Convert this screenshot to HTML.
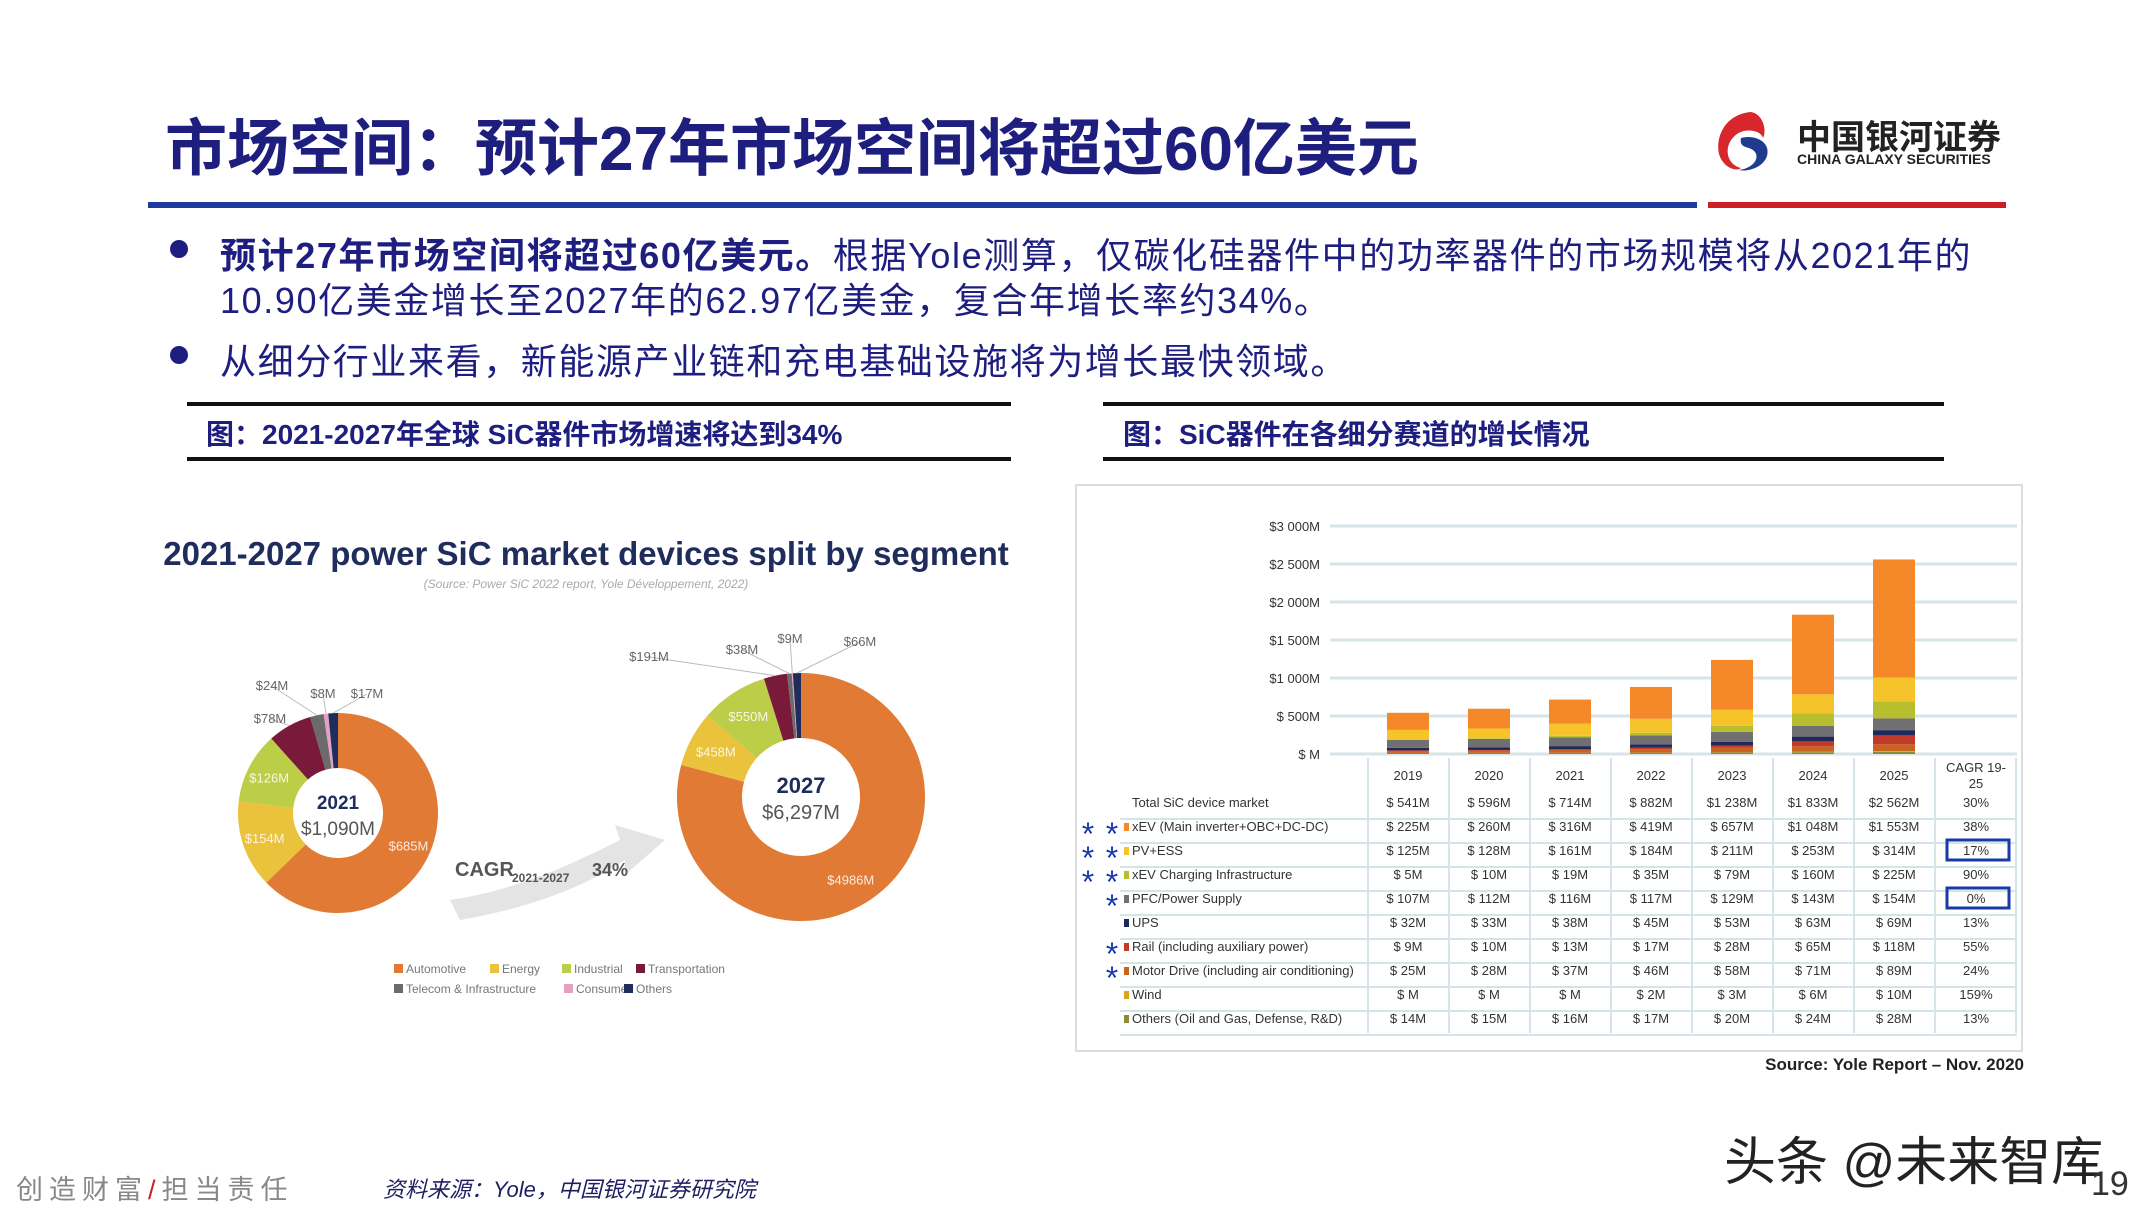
<!DOCTYPE html>
<html><head><meta charset="utf-8">
<style>
html,body{margin:0;padding:0;background:#fff;}
#page{position:relative;width:2155px;height:1212px;overflow:hidden;background:#fff;font-family:"Liberation Sans","Noto Sans CJK SC",sans-serif;}
.abs{position:absolute;white-space:nowrap;}
.title{left:165px;top:98px;font-size:62px;font-weight:bold;color:#1e1e7e;}
.body{font-size:36px;color:#1e1e80;letter-spacing:1.6px;}
.cap{font-size:28px;font-weight:bold;color:#1e1e80;}
.hr{position:absolute;background:#111;height:4px;}
</style></head>
<body>
<div id="page">
  <div class="abs title">市场空间：预计27年市场空间将超过60亿美元</div>
  <svg class="abs" style="left:1711px;top:108px" width="80" height="66">
    <path d="M40 4 C15 6 4 28 8 46 C12 60 26 64 30 60 C14 56 12 36 26 26 C34 20 50 22 52 30 C56 22 52 6 40 4Z" fill="#d7262c"/>
    <path d="M30 30 C44 26 60 34 56 48 C52 60 36 64 28 62 C44 60 50 48 42 42 C36 38 28 40 30 30Z" fill="#1f3b8f"/>
  </svg>
  <div class="abs" style="left:1797px;top:110px;font-size:34px;font-weight:bold;color:#222">中国银河证券</div>
  <div class="abs" style="left:1797px;top:151px;font-size:14px;font-weight:bold;color:#222">CHINA GALAXY SECURITIES</div>
  <div class="abs" style="left:148px;top:202px;width:1549px;height:6px;background:#1e3a9a"></div>
  <div class="abs" style="left:1708px;top:202px;width:298px;height:6px;background:#cc1f25"></div>

  <div class="abs" style="left:170px;top:240px;width:18px;height:18px;border-radius:50%;background:#1e1e80"></div>
  <div class="abs body" style="left:220px;top:227px"><b>预计27年市场空间将超过60亿美元。</b>根据Yole测算，仅碳化硅器件中的功率器件的市场规模将从2021年的</div>
  <div class="abs body" style="left:220px;top:272px">10.90亿美金增长至2027年的62.97亿美金，复合年增长率约34%。</div>
  <div class="abs" style="left:170px;top:346px;width:18px;height:18px;border-radius:50%;background:#1e1e80"></div>
  <div class="abs body" style="left:220px;top:333px">从细分行业来看，新能源产业链和充电基础设施将为增长最快领域。</div>

  <div class="hr" style="left:187px;top:402px;width:824px"></div>
  <div class="hr" style="left:187px;top:457px;width:824px"></div>
  <div class="abs cap" style="left:206px;top:413px">图：2021-2027年全球 SiC器件市场增速将达到34%</div>
  <div class="hr" style="left:1103px;top:402px;width:841px"></div>
  <div class="hr" style="left:1103px;top:457px;width:841px"></div>
  <div class="abs cap" style="left:1123px;top:413px">图：SiC器件在各细分赛道的增长情况</div>

  <svg id="donuts" class="abs" style="left:0;top:0" width="1060" height="1040"></svg>
  <svg id="bars" class="abs" style="left:0;top:0" width="2155" height="1090"></svg>

  <div class="abs" style="left:16px;top:1168px;font-size:27px;color:#888;letter-spacing:6px">创造财富<span style="color:#cc1f25">/</span>担当责任</div>
  <div class="abs" style="left:383px;top:1172px;font-size:22px;font-style:italic;color:#1e1e60">资料来源：Yole，中国银河证券研究院</div>
  <div class="abs" style="left:1724px;top:1120px;font-size:52px;color:#222">头条 @未来智库</div>
  <div class="abs" style="left:2091px;top:1165px;font-size:34px;color:#333">19</div>
</div>
<script>
const NS="http://www.w3.org/2000/svg";
function mk(parent,tag,attrs,text){const e=document.createElementNS(NS,tag);for(const k in attrs)e.setAttribute(k,attrs[k]);if(text!==undefined)e.textContent=text;parent.appendChild(e);return e;}

// ---------- donut data ----------
const segNames=["Automotive","Energy","Industrial","Transportation","Telecom & Infrastructure","Consumer","Others"];
const segColors=["#e07a35","#ebc23c","#bccd48","#7a1a3a","#6b6b6b","#e8a0c0","#1f2d5c"];
const vals2021=[685,154,126,78,24,8,17];
const vals2027=[4986,458,550,191,38,9,66];
const totals=["$1,090M","$6,297M"];
// outside-label positions (layout only)
const out2021={3:[270,723],4:[272,690],5:[323,698],6:[367,698]};
const out2027={3:[649,661],4:[742,654],5:[790,643],6:[860,646]};

const D=document.getElementById("donuts");
const t=mk(D,"text",{x:586,y:565,"text-anchor":"middle","font-size":33,"font-weight":"bold",fill:"#1f2d5c","font-family":"Liberation Sans, sans-serif"},"2021-2027 power SiC market devices split by segment");

mk(D,"text",{x:586,y:588,"text-anchor":"middle","font-size":12,"font-style":"italic",fill:"#aaa"},"(Source: Power SiC 2022 report, Yole Développement, 2022)");
function donut(vals,cx,cy,R,r,year,total,key,outPos){
  const sum=vals.reduce((a,b)=>a+b,0);let a0=0;
  vals.forEach((v,i)=>{
    const a1=a0+v/sum*2*Math.PI;
    const p=(a,rad)=>[cx+rad*Math.sin(a),cy-rad*Math.cos(a)];
    const large=(a1-a0)>Math.PI?1:0;
    const [x1,y1]=p(a0,R),[x2,y2]=p(a1,R),[x3,y3]=p(a1,r),[x4,y4]=p(a0,r);
    const path=mk(D,"path",{d:`M${x1} ${y1}A${R} ${R} 0 ${large} 1 ${x2} ${y2}L${x3} ${y3}A${r} ${r} 0 ${large} 0 ${x4} ${y4}Z`,fill:segColors[i]});
    
    
    const am=(a0+a1)/2;
    const pos=outPos[i];
    if(!pos){const ang=i==0?(key=="2021"?2.0:2.6):am;const [lx,ly]=p(ang,(R+r)/2+5);mk(D,"text",{x:lx,y:ly+5,"text-anchor":"middle","font-size":13,fill:"#fff","fill-opacity":0.85},"$"+v+"M");}
    else{const [ex,ey]=p(am,R);
      mk(D,"line",{x1:ex,y1:ey,x2:pos[0],y2:pos[1]-4,stroke:"#bbb","stroke-width":1});
      mk(D,"text",{x:pos[0],y:pos[1],"text-anchor":"middle","font-size":13,fill:"#666"},"$"+v+"M");}
    a0=a1;
  });
  mk(D,"text",{x:cx,y:cy-4,"text-anchor":"middle","font-size":r>50?22:19,"font-weight":"bold",fill:"#1f2d5c"},year);
  mk(D,"text",{x:cx,y:cy+22,"text-anchor":"middle","font-size":r>50?20:19,fill:"#555"},total);
}
donut(vals2021,338,813,100,45,"2021",totals[0],"2021",out2021);
donut(vals2027,801,797,124,59,"2027",totals[1],"2027",out2027);
mk(D,"path",{d:"M450 900 C520 890 580 860 620 840 L615 825 L665 840 L625 875 L625 860 C580 890 520 910 460 920Z",fill:"#e4e4e4"});
mk(D,"text",{x:455,y:876,"font-size":20,"font-weight":"bold",fill:"#555"},"CAGR");
mk(D,"text",{x:512,y:882,"font-size":12,"font-weight":"bold",fill:"#555"},"2021-2027");
mk(D,"text",{x:592,y:876,"font-size":18,"font-weight":"bold",fill:"#555"},"34%");
segNames.forEach((n,i)=>{const row=i<4?0:1;const xs=[394,490,562,636,394,564,624];const x=xs[i],y=973+row*20;
  const s=mk(D,"rect",{x:x,y:y-9,width:9,height:9,fill:segColors[i]});
  mk(D,"text",{x:x+12,y:y,"font-size":12,fill:"#777"},n);});

// ---------- stacked bar data ----------
const years=["2019","2020","2021","2022","2023","2024","2025"];
const seriesNames=["xEV (Main inverter+OBC+DC-DC)","PV+ESS","xEV Charging Infrastructure","PFC/Power Supply","UPS","Rail (including auxiliary power)","Motor Drive (including air conditioning)","Wind","Others (Oil and Gas, Defense, R&D)"];
const xev=[225,260,316,419,657,1048,1553];
const pv=[125,128,161,184,211,253,314];
const charging=[5,10,19,35,79,160,225];
const pfc=[107,112,116,117,129,143,154];
const ups=[32,33,38,45,53,63,69];
const rail=[9,10,13,17,28,65,118];
const motor=[25,28,37,46,58,71,89];
const wind=[0,0,0,2,3,6,10];
const others=[14,15,16,17,20,24,28];
const totalLabels=["$ 541M","$ 596M","$ 714M","$ 882M","$1 238M","$1 833M","$2 562M"];
const cagrLabels=["30%","38%","17%","90%","0%","13%","55%","24%","159%","13%"];
const yTicks=[0,500,1000,1500,2000,2500,3000];
const yTickLabels=["$ M","$ 500M","$1 000M","$1 500M","$2 000M","$2 500M","$3 000M"];

const B=document.getElementById("bars");
const seriesVals=[xev,pv,charging,pfc,ups,rail,motor,wind,others];
const seriesColors=["#f5892a","#f6c42a","#b7bf2e","#707070","#1f2a5a","#c23a2a","#c8641e","#d9a520","#8a8a3a"];
const stackOrder=[8,7,6,5,4,3,2,1,0];
const y0=754,yTop=526,xMin=0,xMax=3000;
const Y=v=>y0-(v-xMin)/(xMax-xMin)*(y0-yTop);
const X=i=>1408+i*81;
mk(B,"rect",{x:1076,y:485,width:946,height:566,fill:"#fff",stroke:"#ddd","stroke-width":2});
yTicks.forEach((tk,i)=>{mk(B,"line",{x1:1330,x2:2017,y1:Y(tk),y2:Y(tk),stroke:"#d6e4ea","stroke-width":3});
  mk(B,"text",{x:1320,y:Y(tk)+5,"text-anchor":"end","font-size":13,fill:"#333"},yTickLabels[i]);});
years.forEach((yr,i)=>{let acc=0;
  stackOrder.forEach(s=>{const v=seriesVals[s][i];const r=mk(B,"rect",{x:X(i)-21,y:Y(acc+v),width:42,height:Y(acc)-Y(acc+v),fill:seriesColors[s]});
    
    
    acc+=v;});
});
const rowY=i=>807+i*24;
for(let c=0;c<=8;c++){const x=1368+c*81;mk(B,"line",{x1:x,x2:x,y1:758,y2:1033,stroke:"#d6e4ea","stroke-width":2});}
years.forEach((yr,i)=>mk(B,"text",{x:X(i),y:780,"text-anchor":"middle","font-size":13,fill:"#333"},yr));
mk(B,"text",{x:1976,y:772,"text-anchor":"middle","font-size":13,fill:"#333"},"CAGR 19-");
mk(B,"text",{x:1976,y:788,"text-anchor":"middle","font-size":13,fill:"#333"},"25");
const fmt=v=>v>=1000?"$"+Math.floor(v/1000)+" "+String(v%1000).padStart(3,"0")+"M":(v===0?"$ M":"$ "+v+"M");
const rowNames=["Total SiC device market"].concat(seriesNames);
for(let r=0;r<10;r++){const y=rowY(r);
  mk(B,"line",{x1:1120,x2:2017,y1:y+12,y2:y+12,stroke:"#d6e4ea","stroke-width":2});
  if(r>0)mk(B,"rect",{x:1124,y:y-8,width:5,height:8,fill:seriesColors[r-1]});
  mk(B,"text",{x:1132,y:y,"font-size":13,fill:"#333"},rowNames[r]);
  for(let i=0;i<7;i++){const tx=r===0?totalLabels[i]:fmt(seriesVals[r-1][i]);
    mk(B,"text",{x:X(i),y:y,"text-anchor":"middle","font-size":13,fill:"#333"},tx);}
  mk(B,"text",{x:1976,y:y,"text-anchor":"middle","font-size":13,fill:"#333"},cagrLabels[r]);
}
[2,4].forEach(r=>mk(B,"rect",{x:1947,y:rowY(r)-15,width:62,height:20,fill:"none",stroke:"#1a3aa8","stroke-width":3}));
const stars=[[1,2],[2,2],[3,2],[4,1],[6,1],[7,1]];
stars.forEach(([r,n])=>{for(let k=0;k<n;k++)mk(B,"text",{x:1112-k*24,y:rowY(r)+14,"text-anchor":"middle","font-size":32,fill:"#1a3aa8"},"*");});
mk(B,"text",{x:2024,y:1070,"text-anchor":"end","font-size":17,"font-weight":"bold",fill:"#222"},"Source: Yole Report – Nov. 2020");
</script>
</body></html>
